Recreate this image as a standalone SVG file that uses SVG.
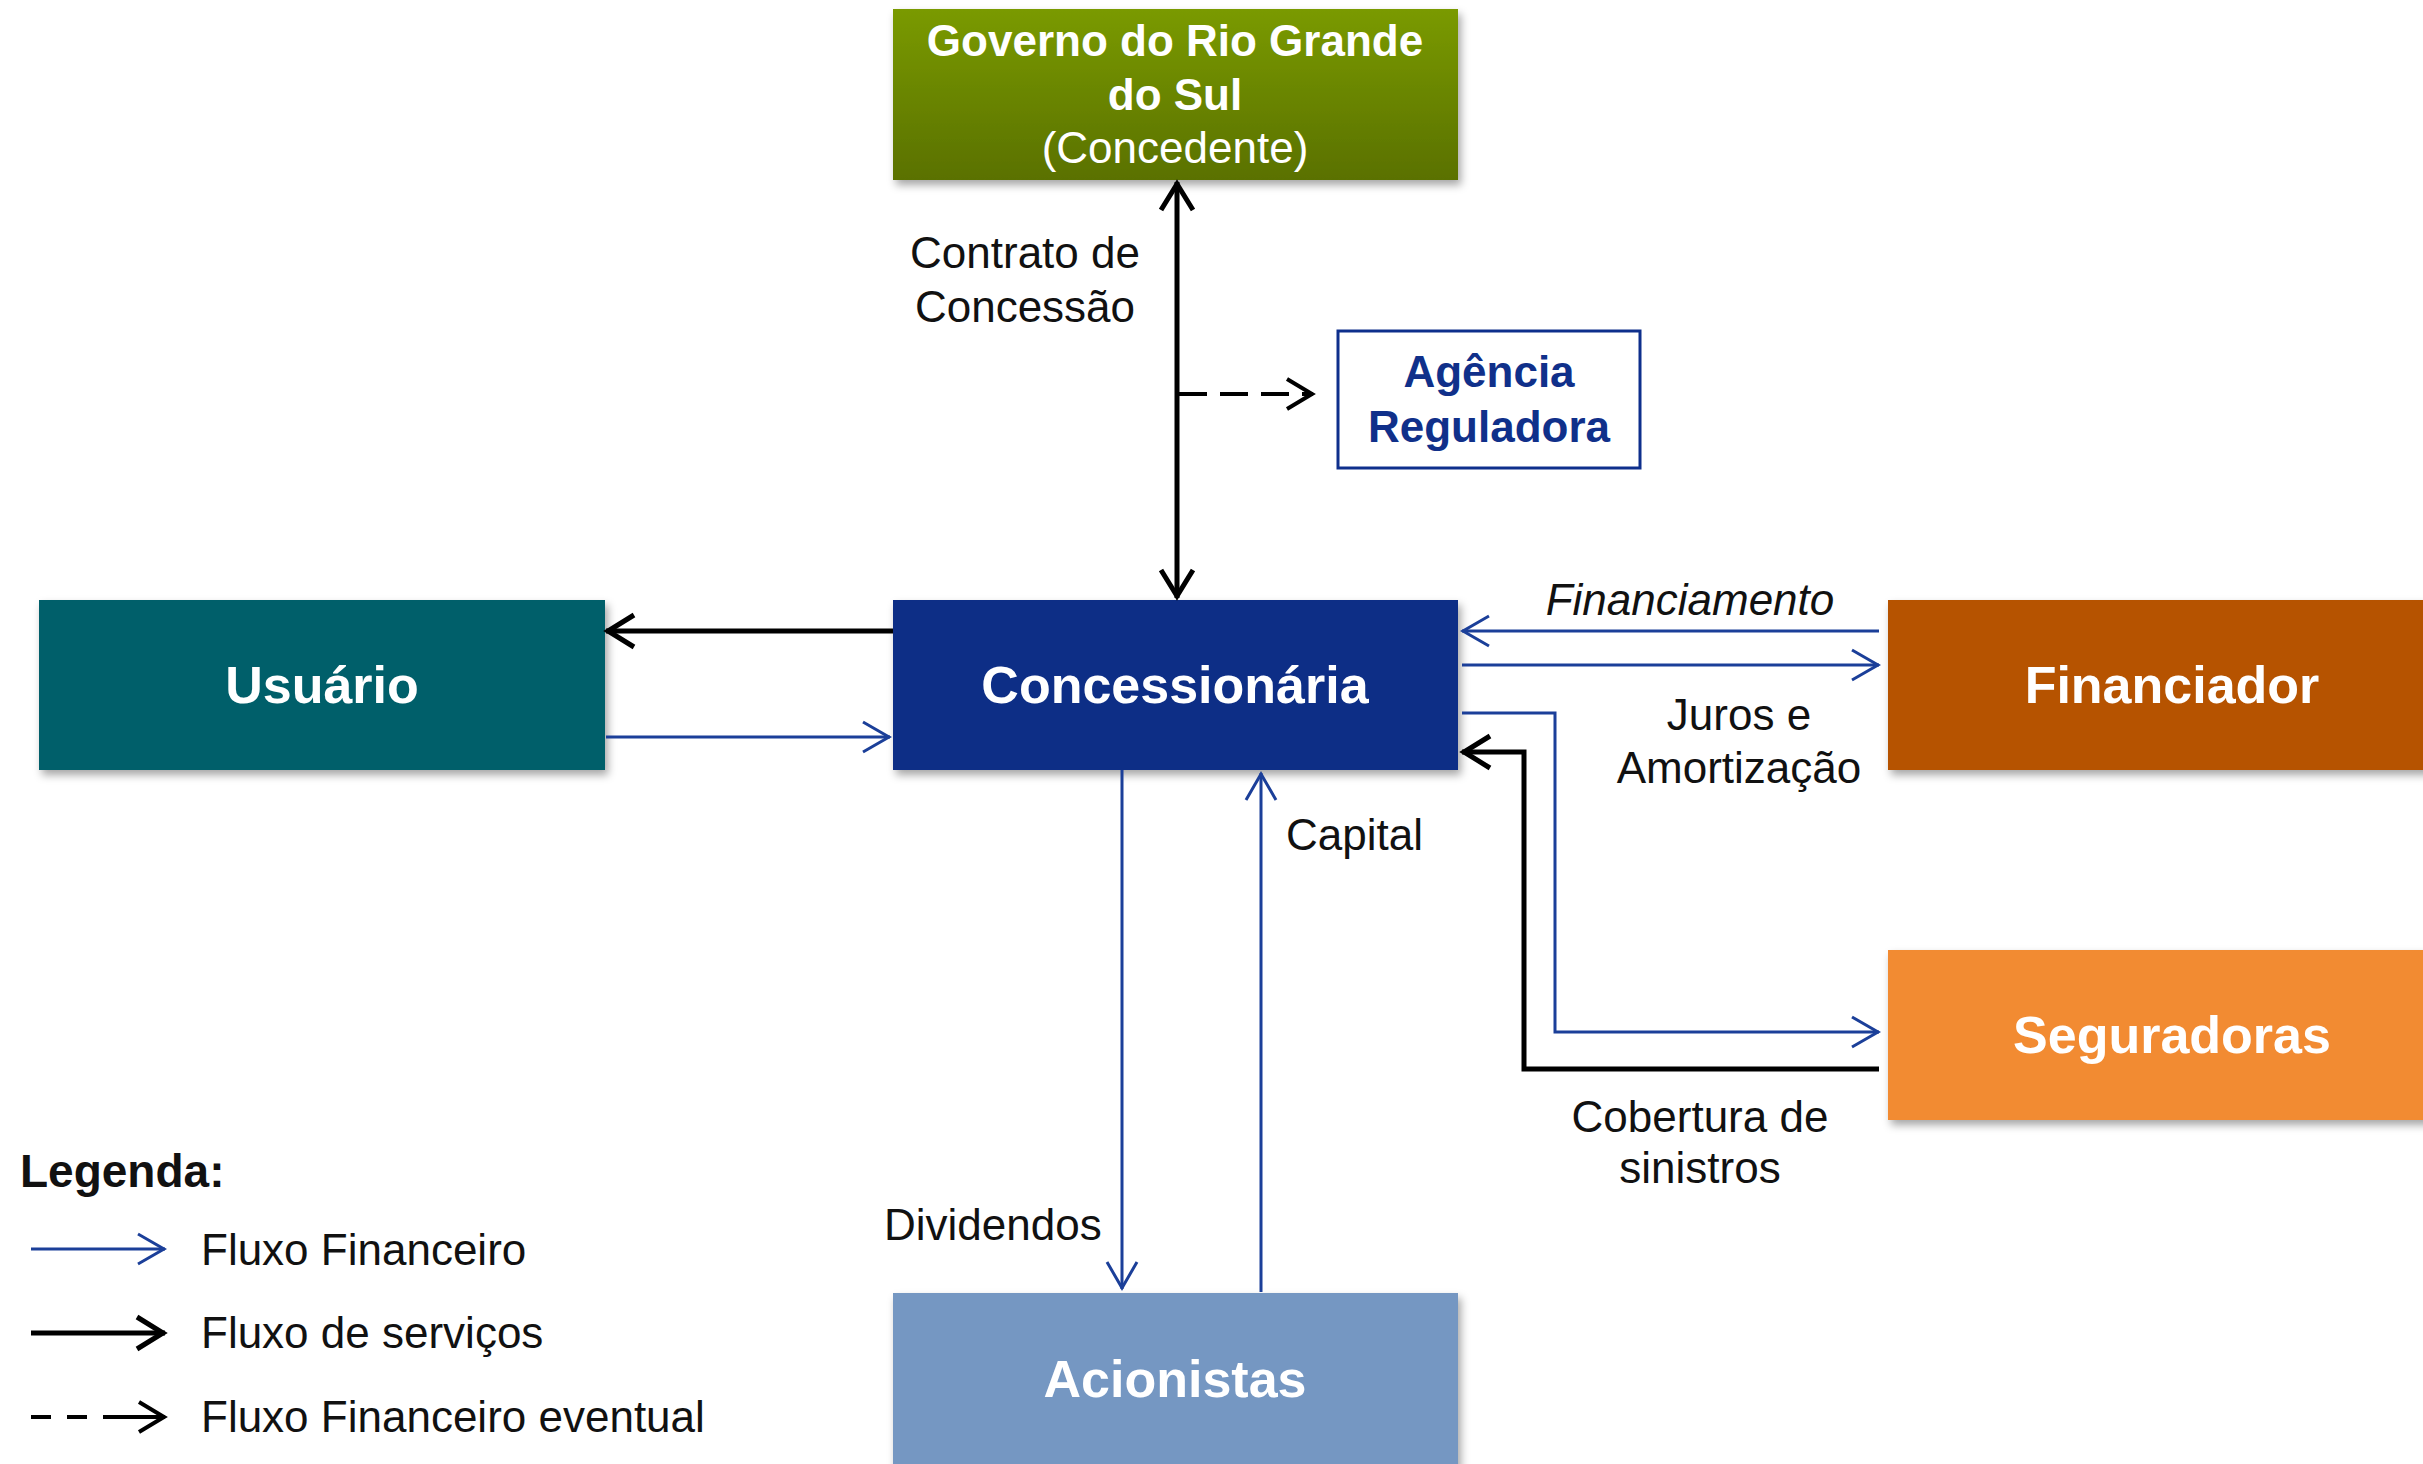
<svg xmlns="http://www.w3.org/2000/svg" width="2423" height="1464" viewBox="0 0 2423 1464">
<style>
text{font-family:"Liberation Sans",Arial,sans-serif}
.nt{font-size:52px;font-weight:bold;fill:#fff;text-anchor:middle}
.gt{font-size:44px;fill:#fff;text-anchor:middle}
.lb{font-size:44px;fill:#111;text-anchor:middle}
.lg{font-size:44px;fill:#111}
.blue{fill:none;stroke:#1b3f99;stroke-width:3}
.blk{fill:none;stroke:#000;stroke-width:5}
.dash{fill:none;stroke:#000;stroke-width:4}
</style>
<defs>
<filter id="sh" x="-5%" y="-10%" width="115%" height="130%">
<feDropShadow dx="3" dy="5" stdDeviation="4" flood-color="#000" flood-opacity="0.35"/>
</filter>
<linearGradient id="gg" x1="0" y1="0" x2="0" y2="1">
<stop offset="0" stop-color="#7a9a06"/>
<stop offset="1" stop-color="#5a7104"/>
</linearGradient>
<marker id="mb" markerUnits="userSpaceOnUse" viewBox="-32 -18 36 36" refX="0" refY="0" markerWidth="36" markerHeight="36" orient="auto-start-reverse" overflow="visible">
<path d="M-27,-15 L-1,0 L-27,15" fill="none" stroke="#1b3f99" stroke-width="3"/>
</marker>
<marker id="mk" markerUnits="userSpaceOnUse" viewBox="-34 -20 38 40" refX="0" refY="0" markerWidth="38" markerHeight="40" orient="auto-start-reverse" overflow="visible">
<path d="M-28,-16 L-2,0 L-28,16" fill="none" stroke="#000" stroke-width="5"/>
</marker>
<marker id="md" markerUnits="userSpaceOnUse" viewBox="-32 -18 36 36" refX="0" refY="0" markerWidth="36" markerHeight="36" orient="auto" overflow="visible">
<path d="M-26,-15 L-1,0 L-26,15" fill="none" stroke="#000" stroke-width="4"/>
</marker>
</defs>
<rect width="2423" height="1464" fill="#fff"/>

<g id="gov">
<rect x="893" y="9" width="565" height="171" fill="url(#gg)" filter="url(#sh)"/>
<text class="gt" x="1175" y="56" font-weight="bold">Governo do Rio Grande</text>
<text class="gt" x="1175" y="110" font-weight="bold">do Sul</text>
<text class="gt" x="1175" y="163">(Concedente)</text>
</g>
<g id="agencia">
<rect x="1338" y="331" width="302" height="137" fill="#fff" stroke="#0e2f8c" stroke-width="3"/>
<text x="1489" y="387" font-size="44" font-weight="bold" fill="#10308a" text-anchor="middle">Agência</text>
<text x="1489" y="442" font-size="44" font-weight="bold" fill="#10308a" text-anchor="middle">Reguladora</text>
</g>
<g id="usuario">
<rect x="39" y="600" width="566" height="170" fill="#015f6b" filter="url(#sh)"/>
<text class="nt" x="322" y="703">Usuário</text>
</g>
<g id="concessionaria">
<rect x="893" y="600" width="565" height="170" fill="#102e86" filter="url(#sh)"/>
<text class="nt" x="1175" y="703">Concessionária</text>
</g>
<g id="financiador">
<rect x="1888" y="600" width="565" height="170" fill="#b65206" filter="url(#sh)"/>
<text class="nt" x="2172" y="703">Financiador</text>
</g>
<g id="seguradoras">
<rect x="1888" y="950" width="565" height="170" fill="#f28b30" filter="url(#sh)"/>
<text class="nt" x="2172" y="1053">Seguradoras</text>
</g>
<g id="acionistas">
<rect x="893" y="1293" width="565" height="175" fill="#7597c2" filter="url(#sh)"/>
<text class="nt" x="1175" y="1397">Acionistas</text>
</g>

<g id="connectors">
<path class="blk" d="M1177,182 L1177,598" marker-start="url(#mk)" marker-end="url(#mk)"/>
<path class="dash" d="M1179,394 L1313,394" stroke-dasharray="28 13" marker-end="url(#md)"/>
<path class="blk" d="M893,631 L606,631" marker-end="url(#mk)"/>
<path class="blue" d="M606,737 L890,737" marker-end="url(#mb)"/>
<path class="blue" d="M1879,631 L1462,631" marker-end="url(#mb)"/>
<path class="blue" d="M1462,665 L1879,665" marker-end="url(#mb)"/>
<path class="blue" d="M1462,713 L1555,713 L1555,1032 L1879,1032" marker-end="url(#mb)"/>
<path class="blk" d="M1879,1069 L1524,1069 L1524,752 L1462,752" marker-end="url(#mk)"/>
<path class="blue" d="M1122,770 L1122,1289" marker-end="url(#mb)"/>
<path class="blue" d="M1261,1292 L1261,773" marker-end="url(#mb)"/>
</g>

<g id="labels">
<text class="lb" x="1025" y="268">Contrato de</text>
<text class="lb" x="1025" y="322">Concessão</text>
<text class="lb" x="1690" y="615" font-style="italic">Financiamento</text>
<text class="lb" x="1739" y="730">Juros e</text>
<text class="lb" x="1739" y="783">Amortização</text>
<text class="lg" x="1286" y="850">Capital</text>
<text class="lg" x="884" y="1240">Dividendos</text>
<text class="lb" x="1700" y="1132">Cobertura de</text>
<text class="lb" x="1700" y="1183">sinistros</text>
</g>

<g id="legend">
<text x="20" y="1187" font-size="46" font-weight="bold" fill="#111">Legenda:</text>
<path class="blue" d="M31,1249 L165,1249" marker-end="url(#mb)"/>
<text class="lg" x="201" y="1265">Fluxo Financeiro</text>
<path class="blk" d="M31,1333 L165,1333" stroke-width="6" marker-end="url(#mk)"/>
<text class="lg" x="201" y="1348">Fluxo de serviços</text>
<path class="dash" d="M31,1417 L165,1417" stroke-width="3.5" stroke-dasharray="20 16 20 16 62" marker-end="url(#md)"/>
<text class="lg" x="201" y="1432">Fluxo Financeiro eventual</text>
</g>
</svg>
